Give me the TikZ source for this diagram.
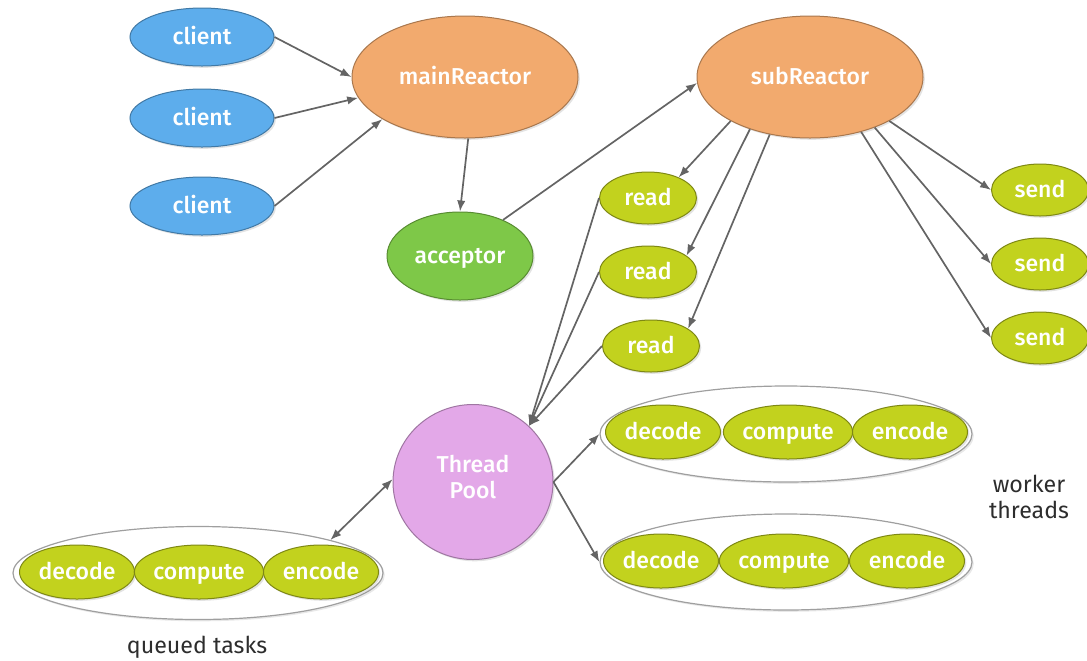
\documentclass[tikz,border=0pt]{standalone}
\usepackage{fontspec}
\setmainfont{Fira Sans}[BoldFont={Fira Sans Medium}]
\usetikzlibrary{shapes.geometric,arrows.meta,shadows}
\definecolor{cblue}{RGB}{93,173,236}
\definecolor{corange}{RGB}{242,170,110}
\definecolor{cgreen}{RGB}{126,200,72}
\definecolor{cyg}{RGB}{194,210,30}
\definecolor{cpink}{RGB}{227,168,232}
\definecolor{cline}{RGB}{100,100,100}
\definecolor{ctext}{RGB}{45,45,45}
\begin{document}
\begin{tikzpicture}[x=0.5pt,y=-0.5pt,
  base/.style={ellipse, inner sep=0pt, text=white, align=center,
    font=\bfseries\fontsize{11.5}{13}\selectfont, line width=0.5pt,
    drop shadow={opacity=0.22, shadow xshift=0.9pt, shadow yshift=-0.9pt}},
  oneline/.style={base, text height=0.72em, text depth=0pt},
  client/.style={oneline, fill=cblue, draw=cblue!70!black, minimum width=72pt, minimum height=29pt},
  reactor/.style={oneline, fill=corange, draw=corange!70!black, minimum width=113pt, minimum height=61pt},
  acceptorbox/.style={oneline, fill=cgreen, draw=cgreen!70!black, minimum width=73pt, minimum height=44pt},
  smallbox/.style={oneline, fill=cyg, draw=cyg!65!black, minimum width=48.5pt, minimum height=26pt},
  taskbox/.style={oneline, fill=cyg, draw=cyg!65!black, minimum width=57.5pt, minimum height=27pt},
  pool/.style={base, fill=cpink, draw=cpink!70!black, minimum width=80pt, minimum height=77.5pt, text depth=5pt},
  group/.style={ellipse, inner sep=0pt, fill=white, draw=gray!75, line width=0.6pt,
    drop shadow={opacity=0.18, shadow xshift=0.9pt, shadow yshift=-0.9pt}},
  caption/.style={text=ctext, align=center, font=\fontsize{11.6}{13}\selectfont},
  conn/.style={draw=cline, line width=0.85pt, -{Latex[length=5.5pt,width=4.2pt]}}
]
\useasboundingbox (0,0) rectangle (1087,660);

% main nodes
\node[client] (c1) at (202,37) {client};
\node[client] (c2) at (202,118) {client};
\node[client] (c3) at (202,206) {client};
\node[reactor] (mr) at (465,77) {mainReactor};
\node[reactor] (sr) at (810,77) {subReactor};
\node[acceptorbox] (acc) at (460,256) {acceptor};
\node[smallbox] (r1) at (648,198) {read};
\node[smallbox] (r2) at (648,272) {read};
\node[smallbox] (r3) at (651,346) {read};
\node[smallbox] (s1) at (1040,190) {send};
\node[smallbox] (s2) at (1040,264) {send};
\node[smallbox] (s3) at (1040,338) {send};
\node[pool] (tp) at (473,482) {Thread\\Pool};

% groups
\node[group, minimum width=185pt, minimum height=46.5pt] (qg) at (198,573) {};
\node[group, minimum width=186pt, minimum height=48pt] (wg1) at (786,434) {};
\node[group, minimum width=186pt, minimum height=48pt] (wg2) at (786,562) {};

\node[taskbox] (qd) at (77,572) {decode};
\node[taskbox] (qc) at (199,572) {compute};
\node[taskbox] (qe) at (321,572) {encode};
\node[taskbox] (w1d) at (663,432) {decode};
\node[taskbox] (w1c) at (788,432) {compute};
\node[taskbox] (w1e) at (910,432) {encode};
\node[taskbox] (w2d) at (661,561) {decode};
\node[taskbox] (w2c) at (784,561) {compute};
\node[taskbox] (w2e) at (907,561) {encode};

\node[caption] (lq) at (197,647) {queued tasks};
\node[caption] (lw) at (1029,497) {worker\\threads};

% connectors
\draw[conn] (c1.east) -- (mr.180);
\draw[conn] (c2.east) -- (mr.191);
\draw[conn] (c3.east) -- (mr.207);
\draw[conn] (mr.273) -- (acc.north);
\draw[conn] (acc.40) -- (sr.183);
\draw[conn] (sr.209) -- (r1.34);
\draw[conn] (sr.221) -- (r2.23);
\draw[conn] (sr.235) -- (r3.25);
\draw[conn] (sr.331) -- (s1.west);
\draw[conn] (sr.322) -- (s2.west);
\draw[conn] (sr.313) -- (s3.west);
\draw[conn] (r1.west) -- (tp.45);
\draw[conn] (r2.west) -- (tp.45);
\draw[conn] (r3.west) -- (tp.45);
\draw[conn, {Latex[length=5.5pt,width=4.2pt]}-{Latex[length=5.5pt,width=4.2pt]}] (qg.14) -- (tp.178);
\draw[conn] (tp.0) -- (wg1.west);
\draw[conn] (tp.0) -- (wg2.west);
\end{tikzpicture}
\end{document}
